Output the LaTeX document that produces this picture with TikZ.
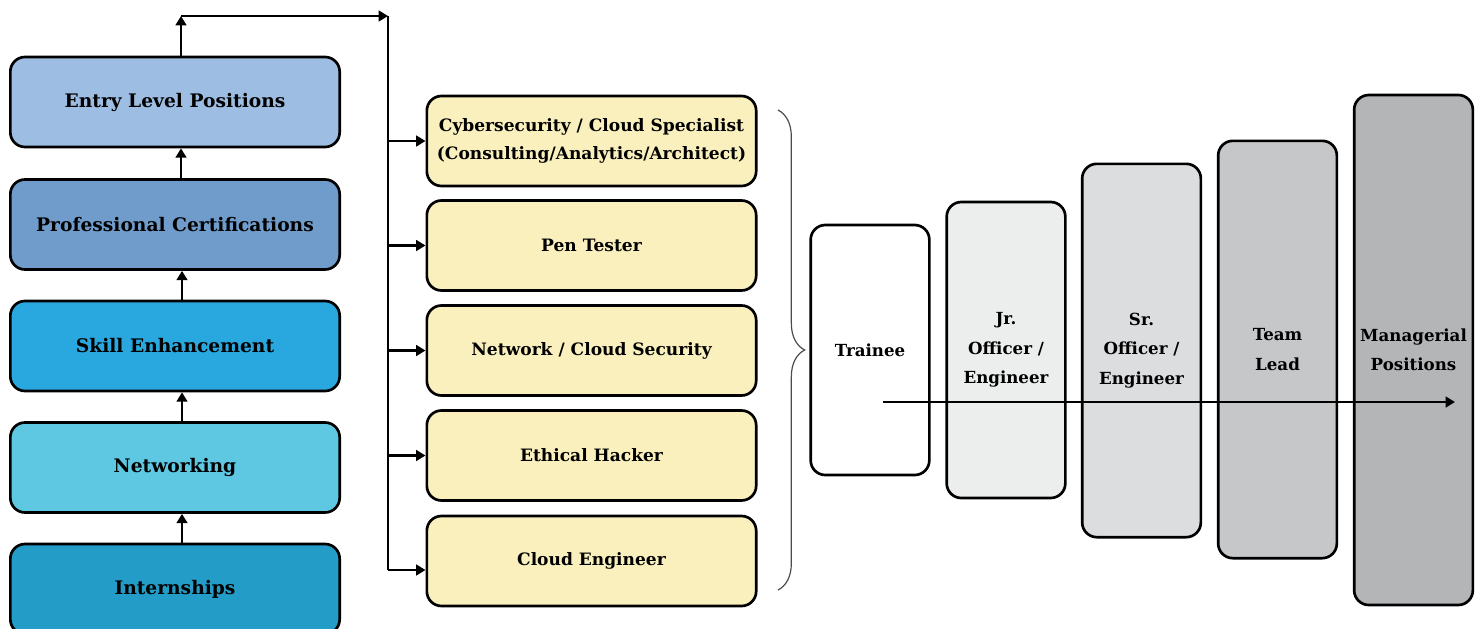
\documentclass[tikz,border=0pt]{standalone}
\usepackage{fontspec}
\setmainfont{DejaVu Serif}
\usetikzlibrary{arrows.meta, positioning, decorations.pathreplacing}
\usepackage{xcolor}

\definecolor{entryblue}{HTML}{9DBDE3}
\definecolor{certblue}{HTML}{6F9CCB}
\definecolor{skillblue}{HTML}{29A8E0}
\definecolor{netblue}{HTML}{5EC8E2}
\definecolor{internblue}{HTML}{239DC8}
\definecolor{roleyellow}{HTML}{FAF0BE}
\definecolor{jrgray}{HTML}{ECEDED}
\definecolor{srgray}{HTML}{DCDDDF}
\definecolor{leadgray}{HTML}{C6C7C9}
\definecolor{mgrgray}{HTML}{B4B5B7}

\tikzset{
	stage/.style={draw, line width=2pt, rounded corners=11pt, minimum width=247pt, minimum height=67.5pt, align=center, font=\bfseries\fontsize{14}{21}\selectfont},
	role/.style={stage, fill=roleyellow, font=\bfseries\fontsize{12.8}{21}\selectfont},
	rank/.style={draw, line width=2pt, rounded corners=11pt, minimum width=89pt, align=center, font=\bfseries\fontsize{12.5}{22}\selectfont},
	flow/.style={line width=2pt, -{Triangle[length=7pt, width=8pt]}}
}

\begin{document}
\begin{tikzpicture}[x=0.75pt, y=-0.75pt]
				\useasboundingbox (0,0) rectangle (1483,628);
				% preparation steps
				\node[stage, fill=entryblue] (entry) at (175,102) {Entry Level Positions};
				\node[stage, fill=certblue] (cert) at (175,224.5) {Professional Certifications};
				\node[stage, fill=skillblue] (skill) at (175,346) {Skill Enhancement};
				\node[stage, fill=netblue] (network) at (175,467.5) {Networking};
				\node[stage, fill=internblue] (intern) at (175,589) {Internships};
				\draw[flow] ([xshift=5.25pt]intern.north) -- ([xshift=5.25pt]network.south);
				\draw[flow] ([xshift=5.25pt]network.north) -- ([xshift=5.25pt]skill.south);
				\draw[flow] ([xshift=5.25pt]skill.north) -- ([xshift=5.25pt]cert.south);
				\draw[flow] ([xshift=4.5pt]cert.north) -- ([xshift=4.5pt]entry.south);
				% roles
				\node[role] (spec) at (591.5,141) {Cybersecurity / Cloud Specialist\\(Consulting/Analytics/Architect)};
				\node[role] (pen) at (591.5,245.5) {Pen Tester};
				\node[role] (netsec) at (591.5,350.5) {Network / Cloud Security};
				\node[role] (hacker) at (591.5,455.5) {Ethical Hacker};
				\node[role] (cloud) at (591.5,561) {Cloud Engineer};
				\coordinate (topleft) at (181,16);
				\coordinate (topright) at (388,16);
				\coordinate (trunkend) at (388,570);
				\draw[flow] (entry.north -| topleft) -- (topleft);
				\draw[flow] (topleft) -- (topright);
				\draw[line width=2pt] (topright) -- (trunkend);
				\foreach \r in {spec,pen,netsec,hacker}
					\draw[flow] (topright |- \r.west) -- (\r.west);
				\draw[flow] (trunkend) -- (trunkend -| cloud.west);
				\draw[decorate, decoration={brace, amplitude=20pt}, black!70, line width=0.9pt] (778,110) -- (778,590);
				% career ladder
				\node[rank, fill=white, minimum height=187.5pt] (trainee) at (870,350) {Trainee};
				\node[rank, fill=jrgray, minimum height=222pt] (junior) at (1006,350) {Jr.\\Officer /\\Engineer};
				\node[rank, fill=srgray, minimum height=280pt] (senior) at (1141.5,350.5) {Sr.\\Officer /\\Engineer};
				\node[rank, fill=leadgray, minimum height=313pt] (lead) at (1277.5,349.5) {Team\\Lead};
				\node[rank, fill=mgrgray, minimum height=382.5pt] (manager) at (1413.5,350) {Managerial\\Positions};
				\coordinate (progstart) at (883,402);
				\coordinate (progend) at (1455,402);
				\draw[flow] (progstart) -- (progend);
\end{tikzpicture}
\end{document}
